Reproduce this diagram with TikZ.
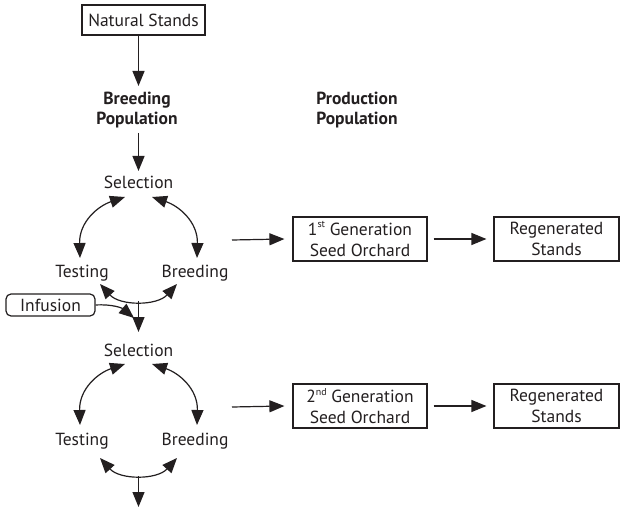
\documentclass[tikz,border=0pt]{standalone}
\usepackage{fontspec}
\setmainfont{PT Sans}
\usetikzlibrary{arrows.meta}
\definecolor{ink}{HTML}{231F20}
\newcommand{\supr}[1]{\raisebox{0.42em}{\fontsize{10}{10}\selectfont #1}}
\tikzset{
  lbl/.style={font=\fontsize{17.5}{20}\selectfont, text=ink, inner sep=0pt, anchor=base},
  head/.style={font=\bfseries\fontsize{17.5}{20}\selectfont, text=ink, inner sep=0pt, align=center},
  boxed/.style={draw=ink, line width=1.2pt, inner sep=0pt, align=center,
    font=\fontsize{17.5}{21}\selectfont, text=ink},
  tip/.tip={Triangle[length=15pt,width=12pt]},
  conn/.style={draw=ink, line width=1.2pt, -tip},
  dconn/.style={draw=ink, line width=1.2pt, tip-tip}
}
\begin{document}
\begin{tikzpicture}[x=1pt,y=-1pt]
\useasboundingbox[fill=white] (0,0) rectangle (622,508);

% boxes
\node[boxed, minimum width=123pt, minimum height=30pt] (ns) at (143.5,20) {Natural Stands};
\node[boxed, minimum width=134pt, minimum height=44pt] (g1) at (360,239) {1\supr{st} Generation\\Seed Orchard};
\node[boxed, minimum width=125pt, minimum height=44pt] (r1) at (556.5,239) {Regenerated\\Stands};
\node[boxed, minimum width=134pt, minimum height=44pt] (g2) at (360,406) {2\supr{nd} Generation\\Seed Orchard};
\node[boxed, minimum width=125pt, minimum height=44pt] (r2) at (556.5,406) {Regenerated\\Stands};
\node[boxed, rounded corners=5pt, minimum width=89pt, minimum height=22pt] (inf) at (50.5,305) {Infusion};

% headings
\node[head] (bp) at (137,110) {Breeding\\Population};
\node[head] (pp) at (357,110) {Production\\Population};

% cycle labels
\node[lbl] (sel1) at (138.5,189) {Selection};
\node[lbl] (test1) at (82,278) {Testing};
\node[lbl] (bre1) at (195,278) {Breeding};
\node[lbl] (sel2) at (138.5,356) {Selection};
\node[lbl] (test2) at (82,445) {Testing};
\node[lbl] (bre2) at (195,445) {Breeding};

% connector end points
\coordinate (nsout) at (138.5,35);
\coordinate (bpin) at (138.5,86);
\coordinate (bpout) at (138.5,133);
\coordinate (sel1in) at (138.5,171);
\coordinate (j1) at (138.5,301);
\coordinate (sel2in) at (138.5,332);
\coordinate (infin) at (134,318);
\coordinate (j2) at (138.5,476);
\coordinate (outend) at (138.5,507);
\coordinate (o1) at (232,240);
\coordinate (o2) at (232,407);

% vertical connectors
\draw[conn] (nsout) -- (bpin);
\draw[conn] (bpout) -- (sel1in);
\draw[conn] (j1) -- (sel2in);
\draw[conn] (j2) -- (outend);

% infusion
\draw[conn] (inf.east) .. controls (112,304) and (122,308) .. (infin);

% cycle 1
\draw[dconn] (80,258) .. controls (79,222) and (98,206) .. (125,197);
\draw[dconn] (197,258) .. controls (198,222) and (179,206) .. (152,197);
\draw[dconn] (100,284) .. controls (120,306) and (157,306) .. (177,284);

% cycle 2
\draw[dconn] (80,425) .. controls (79,389) and (98,373) .. (125,364);
\draw[dconn] (197,425) .. controls (198,389) and (179,373) .. (152,364);
\draw[dconn] (100,458) .. controls (120,480) and (157,480) .. (177,458);

% production arrows
\draw[conn] (o1) -- ([xshift=-8pt]g1.west);
\draw[conn] ([xshift=6pt]g1.east) -- ([xshift=-7pt]r1.west);
\draw[conn] (o2) -- ([xshift=-8pt]g2.west);
\draw[conn] ([xshift=6pt]g2.east) -- ([xshift=-7pt]r2.west);
\end{tikzpicture}
\end{document}
